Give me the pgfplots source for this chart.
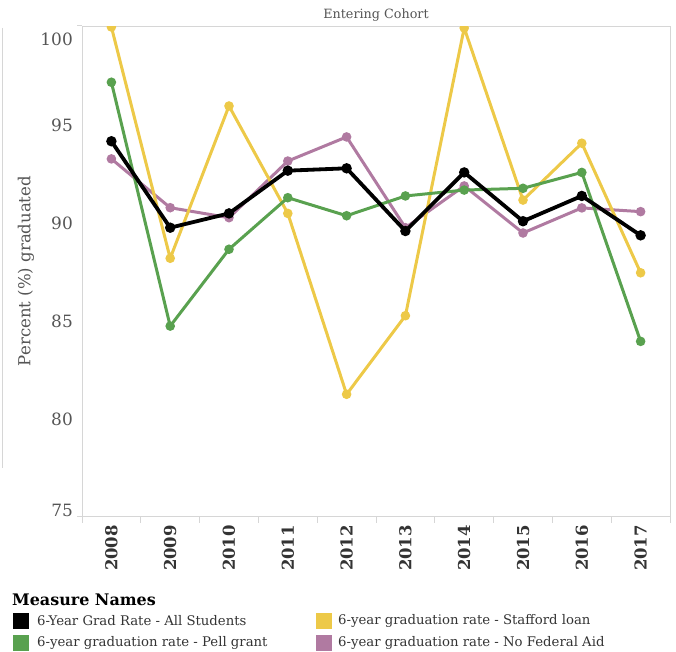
\documentclass[border=0pt]{standalone}
\usepackage{fontspec}
\setmainfont{DejaVu Serif}
\usepackage{pgfplots}
\pgfplotsset{compat=1.18}

\definecolor{cblack}{HTML}{000000}
\definecolor{cgreen}{HTML}{59A14F}
\definecolor{cyellow}{HTML}{EDC948}
\definecolor{cpurple}{HTML}{B07AA1}
\definecolor{framegray}{HTML}{D6D6D6}
\definecolor{textgray}{HTML}{555555}
\definecolor{ticktext}{HTML}{333333}

\begin{document}
\begin{tikzpicture}[x=1bp,y=1bp]
\path[use as bounding box] (0,0) rectangle (676,652);
% pane border left of the y label
\draw[framegray, line width=1bp] (2,624) -- (2,184);
% frame lines reaching past the left axis line
\draw[framegray, line width=1bp] (77,626) -- (82,626);
\draw[framegray, line width=1bp] (77,135) -- (82,135);

\begin{axis}[
    at={(82bp,135bp)}, anchor=south west,
    scale only axis, width=588bp, height=490bp,
    xmin=-0.5, xmax=9.5, ymin=75, ymax=100,
    axis line style={draw=framegray, line width=1bp},
    xtick={0,...,9},
    xticklabels={2008,2009,2010,2011,2012,2013,2014,2015,2016,2017},
    minor xtick={-0.5,0.5,...,9.5},
    ytick={80,85,90,95},
    xtick pos=bottom, ytick pos=left,
    major tick length=0pt, minor tick length=6bp, tick align=outside,
    minor tick style={draw=framegray, line width=1bp},
    xticklabel style={rotate=90, anchor=east, inner sep=0pt, text=ticktext,
        font=\fontsize{16.5}{18}\selectfont\bfseries},
    xticklabel shift=8bp,
    yticklabel style={anchor=east, inner sep=0pt, text=textgray,
        font=\fontsize{17}{19}\selectfont},
    yticklabel shift=9bp,
    /pgf/number format/assume math mode=true,
    clip marker paths=true,
    every axis plot/.append style={line width=3bp, mark=*, mark size=3.2bp},
]
% No Federal Aid
\addplot[color=cpurple, mark options={fill=cpurple, draw=cpurple}] coordinates {
(0,93.27) (1,90.78) (2,90.27) (3,93.16) (4,94.39)
(5,89.76) (6,91.89) (7,89.49) (8,90.77) (9,90.58)};
% Stafford loan
\addplot[color=cyellow, mark options={fill=cyellow, draw=cyellow}] coordinates {
(0,100.0) (1,88.2) (2,95.97) (3,90.49) (4,81.26)
(5,85.27) (6,99.95) (7,91.17) (8,94.07) (9,87.46)};
% Pell grant
\addplot[color=cgreen, mark options={fill=cgreen, draw=cgreen}] coordinates {
(0,97.18) (1,84.74) (2,88.66) (3,91.29) (4,90.37)
(5,91.38) (6,91.68) (7,91.77) (8,92.58) (9,83.96)};
% All students
\addplot[color=cblack, line width=3.8bp, mark options={fill=cblack, draw=cblack}] coordinates {
(0,94.17) (1,89.76) (2,90.49) (3,92.67) (4,92.79)
(5,89.59) (6,92.58) (7,90.09) (8,91.38) (9,89.37)};
\end{axis}

% end labels of the value axis, kept inside the frame
\node[anchor=east, inner sep=0pt, text=textgray, font=\fontsize{17}{19}\selectfont] at (73,613) {100};
\node[anchor=east, inner sep=0pt, text=textgray, font=\fontsize{17}{19}\selectfont] at (73,142) {75};

\node[text=textgray, font=\fontsize{12.8}{14}\selectfont] at (376,637) {Entering Cohort};
\node[rotate=90, text=textgray, font=\fontsize{16.6}{18}\selectfont] at (26,381) {Percent (\%) graduated};

% legend
\node[anchor=west, inner sep=0pt, font=\fontsize{16}{18}\selectfont\bfseries] at (12,52) {Measure Names};
\fill[cblack] (13,23) rectangle (29,39);
\fill[cgreen] (13,1) rectangle (29,17);
\fill[cyellow] (316,23) rectangle (332,39);
\fill[cpurple] (316,1) rectangle (332,17);
\begin{scope}[every node/.style={anchor=west, inner sep=0pt, text=ticktext, font=\fontsize{13.3}{15}\selectfont}]
\node at (37,31) {6-Year Grad Rate - All Students};
\node at (37,9) {6-year graduation rate - Pell grant};
\node at (338,31) {6-year graduation rate - Stafford loan};
\node at (338,9) {6-year graduation rate - No Federal Aid};
\end{scope}
\end{tikzpicture}
\end{document}
